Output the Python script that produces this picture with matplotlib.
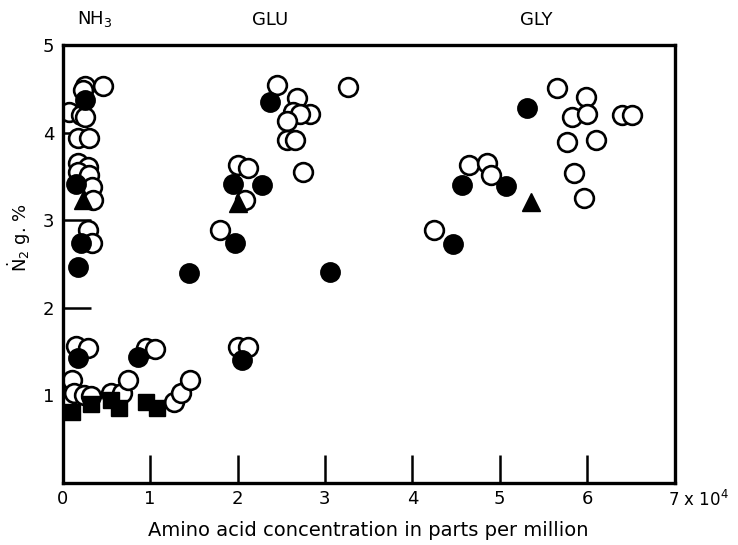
import matplotlib.pyplot as plt
from matplotlib.transforms import ScaledTranslation

# open circles (x in 10^4 ppm, y = N2 g. %)
open_x = [0.26, 0.46, 0.23, 0.07, 0.21, 0.26, 0.17, 0.30, 0.17, 0.29, 0.17, 0.30,
          0.34, 0.35, 0.29, 0.34,
          0.15, 0.29, 0.95, 1.06, 2.01, 2.12,
          0.11, 0.13, 0.24, 0.32, 0.55, 0.68, 0.75, 1.27, 1.35, 1.46,
          2.45, 2.68, 2.63, 2.83, 2.72, 2.57, 2.57, 2.66, 2.75, 3.26,
          2.00, 2.12, 2.09, 1.80,
          5.66, 5.99, 5.83, 6.00, 6.40, 6.51, 5.77, 6.10, 4.65, 4.86, 4.90,
          5.85, 5.96, 4.25]
open_y = [4.53, 4.53, 4.49, 4.24, 4.20, 4.18, 3.94, 3.94, 3.66, 3.61, 3.55, 3.52,
          3.38, 3.23, 2.89, 2.74,
          1.56, 1.54, 1.54, 1.53, 1.55, 1.55,
          1.18, 1.03, 1.00, 0.99, 1.03, 1.03, 1.18, 0.92, 1.03, 1.18,
          4.54, 4.40, 4.24, 4.22, 4.22, 4.14, 3.92, 3.92, 3.55, 4.52,
          3.63, 3.60, 3.23, 2.89,
          4.51, 4.41, 4.18, 4.22, 4.20, 4.20, 3.89, 3.92, 3.63, 3.65, 3.52,
          3.54, 3.26, 2.89]

# filled circles
fill_x = [0.26, 0.15, 0.21, 0.18, 0.17, 0.86, 2.05, 2.37, 1.95, 2.28, 1.97,
          1.44, 3.06, 5.31, 4.57, 5.07, 4.46]
fill_y = [4.37, 3.42, 2.74, 2.47, 1.43, 1.44, 1.40, 4.35, 3.42, 3.40, 2.74,
          2.40, 2.41, 4.28, 3.40, 3.39, 2.73]

# filled triangles
tri_x = [0.23, 2.00, 5.36]
tri_y = [3.23, 3.20, 3.21]

# filled squares
sq_x = [0.11, 0.32, 0.55, 0.64, 0.95, 1.08]
sq_y = [0.81, 0.90, 0.95, 0.86, 0.92, 0.86]

groups = ['NH$_3$', 'GLU', 'GLY']
group_x = [0.37, 2.37, 5.42]

xticks = [0, 1, 2, 3, 4, 5, 6, 7]
xticklabels = ['0', '1', '2', '3', '4', '5', '6', '7 x $10^4$']
yticks = [1, 2, 3, 4, 5]

fig = plt.figure(figsize=(7.38, 5.45), dpi=100)
ax = fig.add_axes([0.085, 0.114, 0.829, 0.803])

ms = 13.5
ax.plot(open_x, open_y, 'o', ms=ms, mfc='white', mec='black', mew=1.9, ls='none')
ax.plot(fill_x, fill_y, 'o', ms=ms, mfc='black', mec='black', mew=1.5, ls='none')
ax.plot(tri_x, tri_y, '^', ms=ms, mfc='black', mec='black', ls='none')
ax.plot(sq_x, sq_y, 's', ms=11, mfc='black', mec='black', ls='none')

ax.set_xlim(0, 7)
ax.set_ylim(0, 5)
ax.set_xticks(xticks)
ax.set_xticklabels(xticklabels)
ax.set_yticks(yticks)
ax.tick_params(direction='in', length=20, width=1.8, labelsize=13, pad=6)
ax.tick_params(axis='x', pad=5)
lbl7 = ax.get_xticklabels()[-1]
lbl7.set_horizontalalignment('left')
lbl7.set_fontsize(12)
lbl7.set_transform(lbl7.get_transform() + ScaledTranslation(-0.07, 0, fig.dpi_scale_trans))
for sp in ax.spines.values():
    sp.set_linewidth(2.4)

for g, gx in zip(groups, group_x):
    ax.text(gx, 5.19, g, ha='center', va='bottom', fontsize=13, clip_on=False)

ax.set_xlabel('Amino acid concentration in parts per million', fontsize=14, labelpad=8)
ax.set_ylabel(r'$\dot{\mathrm{N}}_2$ g. %', fontsize=13)
ax.yaxis.set_label_coords(-0.048, 0.56)

fig.savefig('out.png', dpi=100)
